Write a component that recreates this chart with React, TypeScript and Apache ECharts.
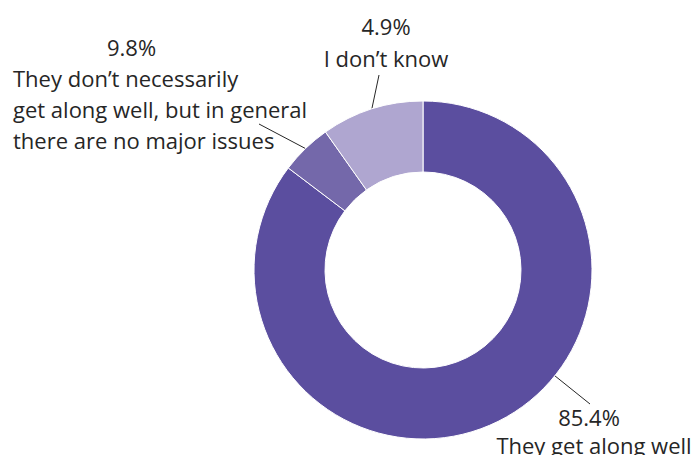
import React, { useEffect, useRef } from "react";
import * as echarts from "echarts";

// Slice names (clockwise from 12 o'clock) and the slice sizes as drawn in the reference
const categories = [
  "They get along well",
  "They don’t necessarily get along well, but in general there are no major issues",
  "I don’t know",
];
const sliceValues = [85.4, 4.9, 9.8];
// Percent texts as printed next to each slice in the reference
const percentLabels = ["85.4%", "9.8%", "4.9%"];
// Wrapped label lines
const labelTextLines = [
  ["They get along well"],
  ["They don’t necessarily", "get along well, but in general", "there are no major issues"],
  ["I don’t know"],
];
const sliceColors = ["#5B4E9F", "#7468AA", "#AFA6D0"];

const W = 695;
const H = 455;
const CX = 423;
const CY = 270;
const R_IN = 98;
const R_OUT = 169;
const FONT = "'Open Sans', Lato, sans-serif";
const FS = 22;
const TEXT_COLOR = "#262626";

// label placement (layout only)
const labelPlace = [
  { x: 594, y: 403, align: "center", lh: 28, endDx: -4, endDy: 1, fromMid: false, pad: [0, 10, 0, 0] },
  { x: 13, y: 31, align: "left", lh: 31, endDx: 246, endDy: 93, fromMid: true, pad: [0, 0, 0, 94] },
  { x: 386, y: 10, align: "center", lh: 32, endDx: -7, endDy: 65, fromMid: true, pad: [0, 0, 0, 0] },
];

export default function App() {
  const ref = useRef<HTMLDivElement>(null);
  useEffect(() => {
    if (!ref.current) return;
    const chart = echarts.init(ref.current, null, { renderer: "svg", width: W, height: H });
    const total = sliceValues.reduce((a, b) => a + b, 0);
    const cum: number[] = [];
    let acc = 0;
    sliceValues.forEach((v) => {
      cum.push(acc);
      acc += v;
    });

    const data = sliceValues.map((v, i) => {
      const lp = labelPlace[i];
      const rich: any = {};
      rich["p" + i] = {
        fontFamily: FONT,
        fontSize: FS,
        color: TEXT_COLOR,
        lineHeight: lp.lh,
        padding: lp.pad,
      };
      rich["t" + i] = {
        fontFamily: FONT,
        fontSize: FS,
        color: TEXT_COLOR,
        lineHeight: lp.lh,
      };
      const text =
        `{p${i}|${percentLabels[i]}}` +
        labelTextLines[i].map((l) => `\n{t${i}|${l}}`).join("");
      return {
        name: categories[i],
        value: v,
        itemStyle: { color: sliceColors[i] },
        label: { formatter: text, rich, align: lp.align as any },
      };
    });

    chart.setOption({
      animation: false,
      backgroundColor: "#ffffff",
      series: [
        {
          type: "pie",
          center: [CX, CY],
          radius: [R_IN, R_OUT],
          startAngle: 90,
          clockwise: true,
          avoidLabelOverlap: false,
          silent: true,
          itemStyle: { borderColor: "#ffffff", borderWidth: 1 },
          label: {
            show: true,
            position: "outside",
            fontFamily: FONT,
            fontSize: FS,
            color: TEXT_COLOR,
          },
          labelLine: {
            show: true,
            length: 10,
            length2: 0,
            lineStyle: { color: "#262626", width: 1 },
          },
          labelLayout: (params: any) => {
            const i = params.dataIndex;
            const lp = labelPlace[i];
            const ex = lp.x + lp.endDx;
            const ey = lp.y + lp.endDy;
            let sx: number;
            let sy: number;
            if (lp.fromMid) {
              const a = ((cum[i] + sliceValues[i] / 2) / total) * Math.PI * 2;
              sx = CX + R_OUT * Math.sin(a);
              sy = CY - R_OUT * Math.cos(a);
            } else {
              const dx = ex - CX;
              const dy = ey - CY;
              const n = Math.sqrt(dx * dx + dy * dy);
              sx = CX + (dx / n) * R_OUT;
              sy = CY + (dy / n) * R_OUT;
            }
            return {
              x: lp.x,
              y: lp.y,
              align: lp.align,
              verticalAlign: "top",
              labelLinePoints: [
                [sx, sy],
                [ex, ey],
                [ex, ey],
              ],
            };
          },
          emphasis: { disabled: true },
          data,
        },
      ],
    });
    return () => chart.dispose();
  }, []);
  return (
    <div
      ref={ref}
      style={{ position: "fixed", left: 0, top: 0, width: W, height: H, background: "#fff" }}
    />
  );
}
